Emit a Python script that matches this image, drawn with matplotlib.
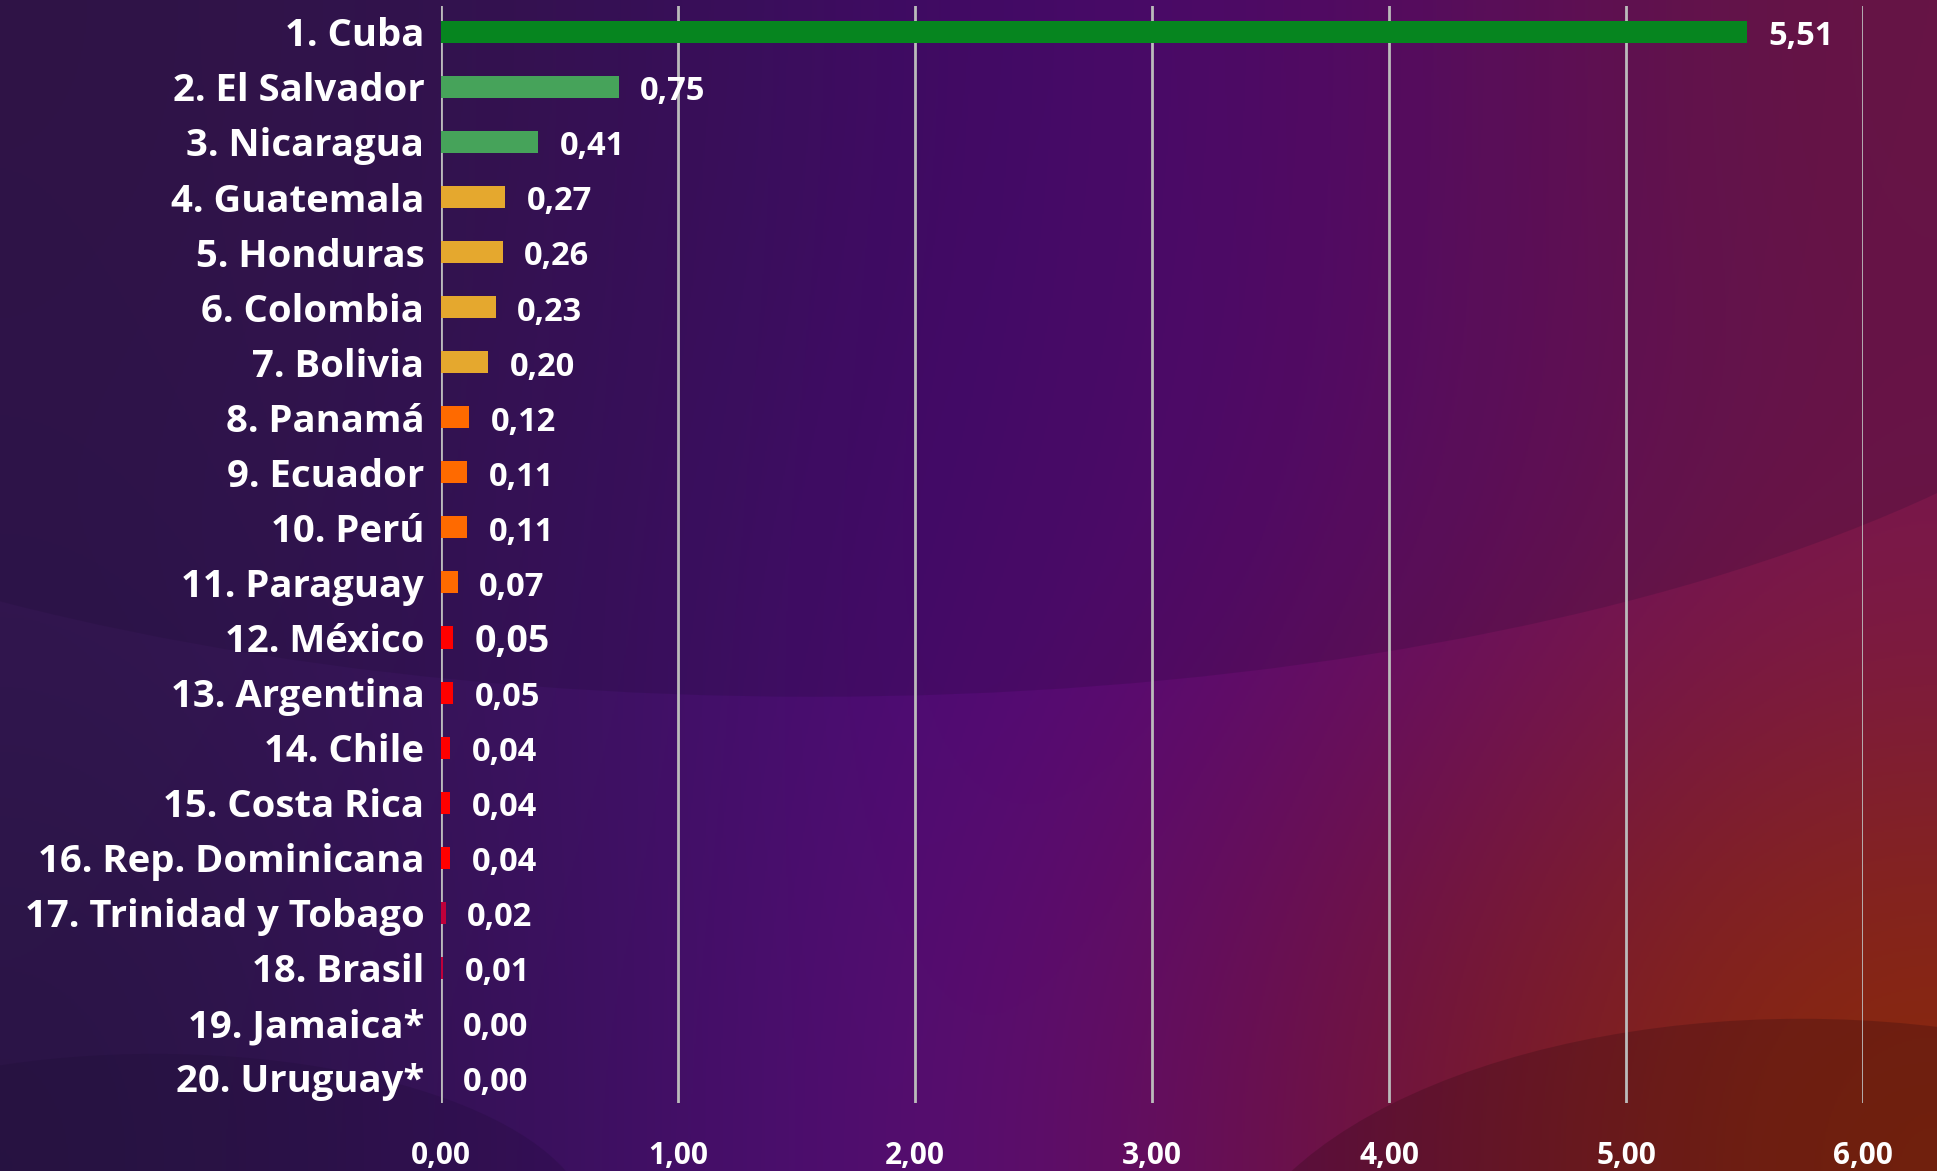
import matplotlib.pyplot as plt
import matplotlib.colors as mcolors
from matplotlib.patches import Ellipse
import numpy as np

countries = ["1. Cuba", "2. El Salvador", "3. Nicaragua", "4. Guatemala", "5. Honduras",
             "6. Colombia", "7. Bolivia", "8. Panamá", "9. Ecuador", "10. Perú",
             "11. Paraguay", "12. México", "13. Argentina", "14. Chile", "15. Costa Rica",
             "16. Rep. Dominicana", "17. Trinidad y Tobago", "18. Brasil", "19. Jamaica*",
             "20. Uruguay*"]
values = [5.51, 0.75, 0.41, 0.27, 0.26, 0.23, 0.20, 0.12, 0.11, 0.11,
          0.07, 0.05, 0.05, 0.04, 0.04, 0.04, 0.02, 0.01, 0.00, 0.00]
bar_colors = ["#06851f", "#46a35a", "#46a35a", "#e5a82e", "#e5a82e", "#e5a82e", "#e5a82e",
              "#ff6a00", "#ff6a00", "#ff6a00", "#ff6a00", "#ff0000", "#ff0000", "#ff0000",
              "#ff0000", "#ff0000", "#c0003a", "#c0003a", "#c0003a", "#c0003a"]
xticks = [0, 1, 2, 3, 4, 5, 6]

plt.rcParams['font.family'] = ['Open Sans', 'DejaVu Sans']

W, H = 1937, 1171
fig = plt.figure(figsize=(W / 100, H / 100), dpi=100)

# background gradient
bg = fig.add_axes([0, 0, 1, 1])
grid = [["#34164c", "#3a1458", "#4a0a75", "#5e0a72", "#781848"],
        ["#321650", "#3c1462", "#4e087c", "#620c70", "#7a1650"],
        ["#2a1545", "#3a1060", "#5a0c7a", "#6e1040", "#8a2a08"]]
img = np.array([[mcolors.to_rgb(c) for c in row] for row in grid])
bg.imshow(img, aspect='auto', interpolation='bicubic', extent=[0, 1, 0, 1])
bg.add_patch(Ellipse((0.42, 0.88), 1.5, 0.95, color="#1a0a30", alpha=0.18, lw=0))
bg.add_patch(Ellipse((0.93, -0.12), 0.6, 0.5, color="#2a0a10", alpha=0.25, lw=0))
bg.add_patch(Ellipse((0.08, -0.05), 0.45, 0.3, color="#1a0a30", alpha=0.2, lw=0))
bg.set_xlim(0, 1)
bg.set_ylim(0, 1)
bg.axis('off')

ax = fig.add_axes([441 / W, 1 - 1103 / H, (1863 - 441) / W, (1103 - 6) / H])
ax.patch.set_alpha(0)
y = np.arange(len(countries))
ax.barh(y, values, height=0.4, color=bar_colors, zorder=3)
ax.set_ylim(len(countries) - 0.545, -0.47)
ax.set_xlim(0, 6)

for i, v in enumerate(values):
    size = 27 if i == 11 else 23.5
    ax.annotate(f"{v:.2f}".replace(".", ","), (v, i), xytext=(15.5, -3.5),
                textcoords='offset points', va='center', ha='left',
                color='white', fontsize=size, fontweight='bold')

ax.set_xticks(xticks)
ax.set_xticklabels([f"{t},00" for t in xticks])
ax.set_yticks(y)
ax.set_yticklabels(countries)
ax.tick_params(axis='y', length=0, pad=12, labelsize=27.5, labelcolor='white')
ax.tick_params(axis='x', length=0, pad=27, labelsize=21.5, labelcolor='white')
for lbl in ax.get_yticklabels() + ax.get_xticklabels():
    lbl.set_fontweight('bold')
ax.grid(axis='x', color='#bbbbbb', linewidth=2, zorder=1)
for s in ax.spines.values():
    s.set_visible(False)

fig.savefig("out.png", dpi=100)
